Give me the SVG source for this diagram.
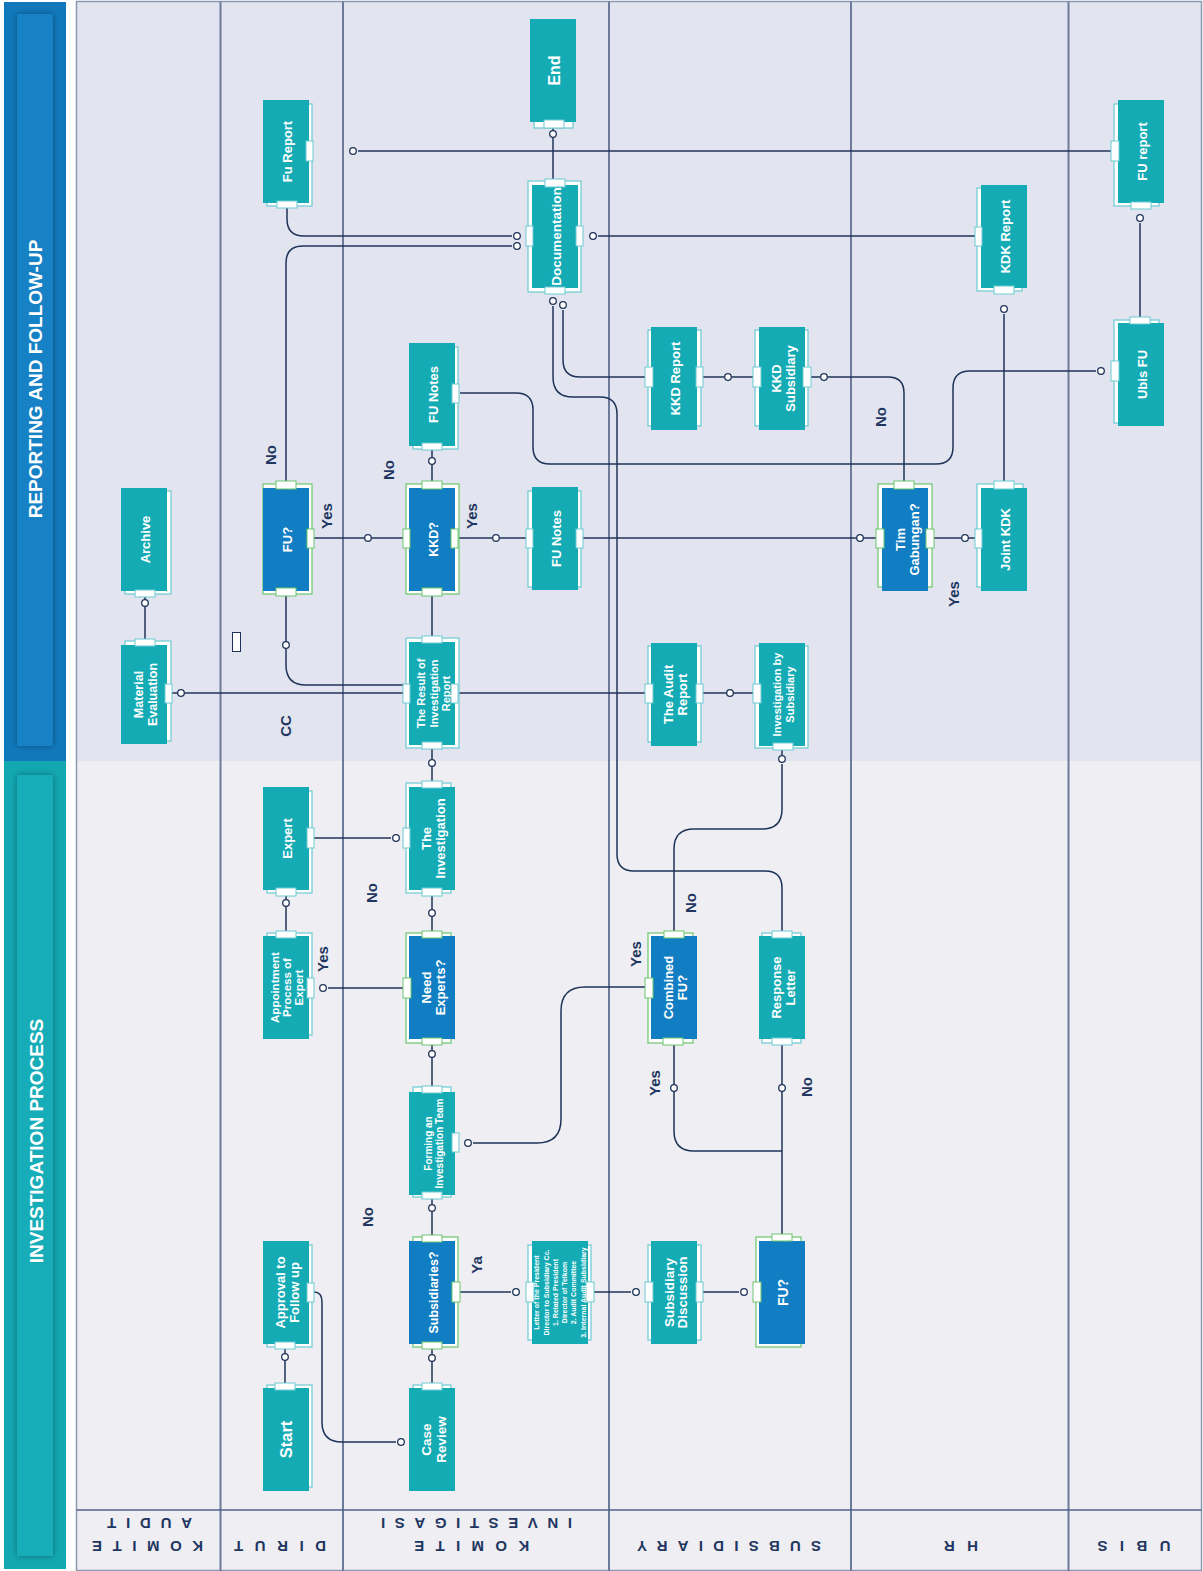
<svg xmlns="http://www.w3.org/2000/svg" width="1203" height="1571" viewBox="0 0 1203 1571">
<defs>
<style>
.tl{fill:#14abb5}
.bl{fill:#117dc2}
.fr{fill:#fff;stroke:#6ccad1;stroke-width:1.2}
.frg{fill:#fff;stroke:#6cc56e;stroke-width:1.2}
.pt{fill:#fff;stroke:#6ccad1;stroke-width:1}
.ptg{fill:#fff;stroke:#6cc56e;stroke-width:1}
.nt{font-family:"Liberation Sans",Arial,sans-serif;font-weight:700;fill:#fff;text-anchor:middle;font-size:12.5px}
.lb{font-family:"Liberation Sans",Arial,sans-serif;font-weight:700;fill:#1f3660;font-size:15px;text-anchor:middle}
.hd{font-family:"Liberation Sans",Arial,sans-serif;font-weight:700;fill:#1f3660;font-size:15px;text-anchor:middle}
.bt{font-family:"Liberation Sans",Arial,sans-serif;font-weight:700;fill:#fff;font-size:19px;text-anchor:middle}
.cn{fill:none;stroke:#1f3358;stroke-width:1.5}
.dot{fill:#fff;stroke:#1f3358;stroke-width:1.3}
.ln{stroke:#6b7b99;stroke-width:2}
</style>
<filter id="sh" x="-40%" y="-5%" width="180%" height="110%"><feDropShadow dx="0" dy="0" stdDeviation="3" flood-color="#000" flood-opacity="0.35"/></filter>
</defs>

<g id="background">
<rect x="0" y="0" width="1203" height="1571" fill="#fff"/>
<rect x="76.5" y="1.5" width="1125" height="760" fill="#e2e5ef"/>
<rect x="76.5" y="761" width="1125" height="810" fill="#eeeef3"/>
<rect x="76.5" y="1.5" width="1125" height="1569" fill="none" stroke="#8c98b3" stroke-width="1.5"/>
<line class="ln" x1="220.5" y1="1.5" x2="220.5" y2="1571"/>
<line class="ln" x1="343" y1="1.5" x2="343" y2="1571"/>
<line class="ln" x1="609" y1="1.5" x2="609" y2="1571"/>
<line class="ln" x1="851" y1="1.5" x2="851" y2="1571"/>
<line class="ln" x1="1068.5" y1="1.5" x2="1068.5" y2="1571"/>
<line x1="76.5" y1="1510" x2="1201.5" y2="1510" stroke="#51628a" stroke-width="1.5"/>
</g>

<g id="band-reporting">
<rect x="4" y="2" width="62" height="759" fill="#1178bb"/>
<rect x="17" y="14" width="36" height="732" fill="#1381c5" filter="url(#sh)"/>
<text class="bt" transform="translate(35.5,379) rotate(-90)" y="6.8">REPORTING AND FOLLOW-UP</text>
</g>
<g id="band-investigation">
<rect x="4" y="761" width="62" height="808" fill="#13a7b2"/>
<rect x="17" y="775" width="36" height="781" fill="#15adb8" filter="url(#sh)"/>
<text class="bt" transform="translate(36.5,1141) rotate(-90)" y="6.8">INVESTIGATION PROCESS</text>
</g>

<g id="lane-headers">
<text class="hd" transform="translate(147.5,1546) rotate(180)" y="5.4" textLength="111" lengthAdjust="spacing">KOMITE</text>
<text class="hd" transform="translate(149.5,1523.5) rotate(180)" y="5.4" textLength="85" lengthAdjust="spacing">AUDIT</text>
<text class="hd" transform="translate(280,1546) rotate(180)" y="5.4" textLength="92" lengthAdjust="spacing">DIRUT</text>
<text class="hd" transform="translate(471.7,1546) rotate(180)" y="5.4" textLength="115" lengthAdjust="spacing">KOMITE</text>
<text class="hd" transform="translate(476.5,1523.5) rotate(180)" y="5.4" textLength="191" lengthAdjust="spacing">INVESTIGASI</text>
<text class="hd" transform="translate(729,1546) rotate(180)" y="5.4" textLength="184" lengthAdjust="spacing">SUBSIDIARY</text>
<text class="hd" transform="translate(961,1546) rotate(180)" y="5.4" textLength="34" lengthAdjust="spacing">HR</text>
<text class="hd" transform="translate(1134,1546) rotate(180)" y="5.4" textLength="73" lengthAdjust="spacing">UBIS</text>
</g>

<g id="connectors">
<path class="cn" d="M553,128 V179"/>
<path class="cn" d="M287,208 V219 Q287,236 304,236 H512"/>
<path class="cn" d="M286,481 V263 Q286,246 303,246 H512"/>
<path class="cn" d="M975,236 H598"/>
<path class="cn" d="M645,377 H580 Q563,377 563,360 V310"/>
<path class="cn" d="M782,931 V888 Q782,871 765,871 H634 Q617,871 617,854 V414 Q617,397 600,397 H573 Q553,397 553,377 V306"/>
<path class="cn" d="M1111,151 H358"/>
<path class="cn" d="M1140,317 V223"/>
<path class="cn" d="M1004,481 V314"/>
<path class="cn" d="M811,377 H888 Q904,377 904,393 V481"/>
<path class="cn" d="M703,377 H753"/>
<path class="cn" d="M703,693 H753"/>
<path class="cn" d="M314,538 H403"/>
<path class="cn" d="M458,538 H526"/>
<path class="cn" d="M583,538 H876"/>
<path class="cn" d="M934,538 H975"/>
<path class="cn" d="M460,393 H516 Q533,393 533,410 V447 Q533,464 550,464 H936 Q953,464 953,447 V388 Q953,371 970,371 H1096"/>
<path class="cn" d="M432,450 V481"/>
<path class="cn" d="M432,596 V636"/>
<path class="cn" d="M286,596 V665 Q286,685 306,685 H403"/>
<path class="cn" d="M172,693 H403"/>
<path class="cn" d="M458,693 H645"/>
<path class="cn" d="M782,750 V755"/>
<path class="cn" d="M674,931 V849 Q674,829 694,829 H762 Q782,829 782,809 V764"/>
<path class="cn" d="M432,749 V781"/>
<path class="cn" d="M314,838 H391"/>
<path class="cn" d="M432,896 V931"/>
<path class="cn" d="M286,896 V931"/>
<path class="cn" d="M403,988 H328"/>
<path class="cn" d="M432,1045 V1086"/>
<path class="cn" d="M645,987 H585 Q561,987 561,1011 V1119 Q561,1143 537,1143 H473"/>
<path class="cn" d="M432,1199 V1235"/>
<path class="cn" d="M460,1292 H511"/>
<path class="cn" d="M594,1292 H631"/>
<path class="cn" d="M703,1292 H739"/>
<path class="cn" d="M782,1234 V1045"/>
<path class="cn" d="M782,1151 H694 Q674,1151 674,1131 V1045"/>
<path class="cn" d="M432,1349 V1383"/>
<path class="cn" d="M314,1292 Q322,1292 322,1302 V1422 Q322,1442 342,1442 H396"/>
<path class="cn" d="M285,1349 V1383"/>
<path class="cn" d="M145,597 V639"/>
<circle class="dot" cx="553" cy="134" r="3.3"/>
<circle class="dot" cx="517" cy="236" r="3.3"/>
<circle class="dot" cx="517" cy="246" r="3.3"/>
<circle class="dot" cx="593" cy="236" r="3.3"/>
<circle class="dot" cx="563" cy="305" r="3.3"/>
<circle class="dot" cx="553" cy="301" r="3.3"/>
<circle class="dot" cx="353" cy="151" r="3.3"/>
<circle class="dot" cx="1140" cy="218" r="3.3"/>
<circle class="dot" cx="1004" cy="309" r="3.3"/>
<circle class="dot" cx="824" cy="377" r="3.3"/>
<circle class="dot" cx="728" cy="377" r="3.3"/>
<circle class="dot" cx="730" cy="693" r="3.3"/>
<circle class="dot" cx="368" cy="538" r="3.3"/>
<circle class="dot" cx="496" cy="538" r="3.3"/>
<circle class="dot" cx="860" cy="538" r="3.3"/>
<circle class="dot" cx="965" cy="538" r="3.3"/>
<circle class="dot" cx="1101" cy="371" r="3.3"/>
<circle class="dot" cx="432" cy="461" r="3.3"/>
<circle class="dot" cx="286" cy="645" r="3.3"/>
<circle class="dot" cx="181" cy="693" r="3.3"/>
<circle class="dot" cx="782" cy="759" r="3.3"/>
<circle class="dot" cx="432" cy="763" r="3.3"/>
<circle class="dot" cx="396" cy="838" r="3.3"/>
<circle class="dot" cx="432" cy="913" r="3.3"/>
<circle class="dot" cx="286" cy="903" r="3.3"/>
<circle class="dot" cx="323" cy="988" r="3.3"/>
<circle class="dot" cx="432" cy="1054" r="3.3"/>
<circle class="dot" cx="468" cy="1143" r="3.3"/>
<circle class="dot" cx="432" cy="1208" r="3.3"/>
<circle class="dot" cx="516" cy="1292" r="3.3"/>
<circle class="dot" cx="636" cy="1292" r="3.3"/>
<circle class="dot" cx="744" cy="1292" r="3.3"/>
<circle class="dot" cx="782" cy="1088" r="3.3"/>
<circle class="dot" cx="674" cy="1088" r="3.3"/>
<circle class="dot" cx="432" cy="1358" r="3.3"/>
<circle class="dot" cx="401" cy="1442" r="3.3"/>
<circle class="dot" cx="285" cy="1357" r="3.3"/>
<circle class="dot" cx="145" cy="603" r="3.3"/>
</g>

<g id="edge-labels">
<text class="lb" transform="translate(271,455) rotate(-90)" y="5.4">No</text>
<text class="lb" transform="translate(327,516) rotate(-90)" y="5.4">Yes</text>
<text class="lb" transform="translate(389,470) rotate(-90)" y="5.4">No</text>
<text class="lb" transform="translate(472,516) rotate(-90)" y="5.4">Yes</text>
<text class="lb" transform="translate(286,726) rotate(-90)" y="5.4">CC</text>
<text class="lb" transform="translate(881,417) rotate(-90)" y="5.4">No</text>
<text class="lb" transform="translate(954,594) rotate(-90)" y="5.4">Yes</text>
<text class="lb" transform="translate(372,893) rotate(-90)" y="5.4">No</text>
<text class="lb" transform="translate(323,959) rotate(-90)" y="5.4">Yes</text>
<text class="lb" transform="translate(691,903) rotate(-90)" y="5.4">No</text>
<text class="lb" transform="translate(636,954) rotate(-90)" y="5.4">Yes</text>
<text class="lb" transform="translate(655,1083) rotate(-90)" y="5.4">Yes</text>
<text class="lb" transform="translate(807,1087) rotate(-90)" y="5.4">No</text>
<text class="lb" transform="translate(368,1217) rotate(-90)" y="5.4">No</text>
<text class="lb" transform="translate(477,1265) rotate(-90)" y="5.4">Ya</text>
</g>

<g id="marker-box"><rect x="232.5" y="632.5" width="8" height="19" fill="#fff" stroke="#1f3358" stroke-width="1"/></g>

<g id="n-archive">
<rect class="fr" x="125" y="491" width="46" height="103"/>
<rect class="tl" x="121" y="488" width="46" height="103"/>
<rect class="pt" x="135" y="590" width="20" height="7"/>
<text class="nt" transform="translate(145,539.5) rotate(-90)" style="font-size:13px"><tspan x="0" y="4.7">Archive</tspan></text>
</g>
<g id="n-material">
<rect class="fr" x="125" y="641" width="46" height="100"/>
<rect class="tl" x="121" y="645" width="46" height="99"/>
<rect class="pt" x="135" y="639" width="20" height="7"/>
<rect class="pt" x="165" y="684" width="7" height="19"/>
<text class="nt" transform="translate(145,694.5) rotate(-90)"><tspan x="0" y="-2.5">Material</tspan><tspan x="0" y="12">Evaluation</tspan></text>
</g>
<g id="n-fureport">
<rect class="fr" x="267" y="104" width="45" height="102"/>
<rect class="tl" x="263" y="100" width="46" height="103"/>
<rect class="pt" x="306" y="141" width="7" height="20"/>
<rect class="pt" x="277" y="201" width="20" height="7"/>
<text class="nt" transform="translate(287,151.5) rotate(-90)" style="font-size:13px"><tspan x="0" y="4.7">Fu Report</tspan></text>
</g>
<g id="n-fu1">
<rect class="frg" x="263" y="484" width="49" height="110"/>
<rect class="bl" x="263" y="488" width="46" height="103"/>
<rect class="ptg" x="276" y="481" width="20" height="8"/>
<rect class="ptg" x="307" y="529" width="7" height="19"/>
<rect class="ptg" x="276" y="588" width="20" height="8"/>
<text class="nt" transform="translate(287,539.5) rotate(-90)" style="font-size:13px"><tspan x="0" y="4.7">FU?</tspan></text>
</g>
<g id="n-expert">
<rect class="fr" x="267" y="791" width="45" height="102"/>
<rect class="tl" x="263" y="787" width="46" height="103"/>
<rect class="pt" x="307" y="828" width="7" height="20"/>
<rect class="pt" x="276" y="888" width="20" height="8"/>
<text class="nt" transform="translate(287,838.5) rotate(-90)" style="font-size:13px"><tspan x="0" y="4.7">Expert</tspan></text>
</g>
<g id="n-appointment">
<rect class="fr" x="267" y="933" width="45" height="102"/>
<rect class="tl" x="263" y="936" width="46" height="103"/>
<rect class="pt" x="276" y="931" width="20" height="7"/>
<rect class="pt" x="307" y="978" width="7" height="20"/>
<text class="nt" transform="translate(287,987.5) rotate(-90)" style="font-size:11.5px"><tspan x="0" y="-8.2">Appointment</tspan><tspan x="0" y="4.1">Process of</tspan><tspan x="0" y="16.4">Expert</tspan></text>
</g>
<g id="n-approval">
<rect class="fr" x="267" y="1245" width="45" height="102"/>
<rect class="tl" x="263" y="1241" width="46" height="103"/>
<rect class="pt" x="307" y="1283" width="7" height="19"/>
<rect class="pt" x="275" y="1342" width="20" height="7"/>
<text class="nt" transform="translate(287,1292.5) rotate(-90)" style="font-size:13px"><tspan x="0" y="-2.5">Approval to</tspan><tspan x="0" y="11.8">Follow up</tspan></text>
</g>
<g id="n-start">
<rect class="fr" x="267" y="1385" width="45" height="102"/>
<rect class="tl" x="263" y="1388" width="46" height="103"/>
<rect class="pt" x="275" y="1383" width="20" height="7"/>
<text class="nt" transform="translate(286.5,1439.5) rotate(-90)" style="font-size:16.5px"><tspan x="0" y="5.9">Start</tspan></text>
</g>
<g id="n-funotes1">
<rect class="fr" x="413" y="347" width="45" height="102"/>
<rect class="tl" x="409" y="343" width="46" height="103"/>
<rect class="pt" x="452" y="384" width="7" height="19"/>
<rect class="pt" x="422" y="443" width="20" height="7"/>
<text class="nt" transform="translate(433,394.5) rotate(-90)" style="font-size:13px"><tspan x="0" y="4.7">FU Notes</tspan></text>
</g>
<g id="n-kkd">
<rect class="frg" x="406" y="484" width="53" height="110"/>
<rect class="bl" x="409" y="488" width="46" height="103"/>
<rect class="ptg" x="422" y="481" width="20" height="8"/>
<rect class="ptg" x="403" y="529" width="7" height="19"/>
<rect class="ptg" x="451" y="529" width="7" height="19"/>
<rect class="ptg" x="422" y="588" width="20" height="8"/>
<text class="nt" transform="translate(433,539.5) rotate(-90)" style="font-size:12.5px"><tspan x="0" y="4.5">KKD?</tspan></text>
</g>
<g id="n-result">
<rect class="fr" x="406" y="638" width="53" height="110"/>
<rect class="tl" x="409" y="642" width="46" height="103"/>
<rect class="pt" x="422" y="636" width="20" height="7"/>
<rect class="pt" x="403" y="684" width="7" height="19"/>
<rect class="pt" x="451" y="684" width="7" height="19"/>
<rect class="pt" x="422" y="742" width="20" height="7"/>
<text class="nt" transform="translate(433.5,693.5) rotate(-90)" style="font-size:11px"><tspan x="0" y="-8.8">The Result of</tspan><tspan x="0" y="4">Investigation</tspan><tspan x="0" y="16.8">Report</tspan></text>
</g>
<g id="n-investigation">
<rect class="fr" x="406" y="783" width="45" height="110"/>
<rect class="tl" x="409" y="787" width="46" height="103"/>
<rect class="pt" x="422" y="781" width="20" height="7"/>
<rect class="pt" x="403" y="828" width="7" height="20"/>
<rect class="pt" x="422" y="888" width="20" height="8"/>
<text class="nt" transform="translate(433.5,838.5) rotate(-90)" style="font-size:13px"><tspan x="0" y="-2.3">The</tspan><tspan x="0" y="11.7">Investigation</tspan></text>
</g>
<g id="n-needexperts">
<rect class="frg" x="406" y="933" width="45" height="110"/>
<rect class="bl" x="409" y="936" width="46" height="103"/>
<rect class="ptg" x="422" y="931" width="20" height="7"/>
<rect class="ptg" x="403" y="978" width="8" height="20"/>
<rect class="ptg" x="422" y="1038" width="20" height="7"/>
<text class="nt" transform="translate(433.5,987.5) rotate(-90)" style="font-size:13px"><tspan x="0" y="-2.3">Need</tspan><tspan x="0" y="11.7">Experts?</tspan></text>
</g>
<g id="n-forming">
<rect class="fr" x="413" y="1087" width="38" height="110"/>
<rect class="tl" x="409" y="1092" width="46" height="103"/>
<rect class="pt" x="422" y="1086" width="20" height="7"/>
<rect class="pt" x="452" y="1133" width="7" height="19"/>
<rect class="pt" x="422" y="1192" width="20" height="7"/>
<text class="nt" transform="translate(433.5,1143.5) rotate(-90)" style="font-size:10px"><tspan x="0" y="-1.9">Forming an</tspan><tspan x="0" y="9.1">Investigation Team</tspan></text>
</g>
<g id="n-subsidiaries">
<rect class="frg" x="413" y="1237" width="45" height="110"/>
<rect class="bl" x="409" y="1241" width="46" height="103"/>
<rect class="ptg" x="422" y="1235" width="20" height="7"/>
<rect class="ptg" x="452" y="1282" width="8" height="20"/>
<rect class="ptg" x="422" y="1342" width="20" height="7"/>
<text class="nt" transform="translate(433,1292.5) rotate(-90)" style="font-size:12.5px"><tspan x="0" y="4.5">Subsidiaries?</tspan></text>
</g>
<g id="n-casereview">
<rect class="fr" x="413" y="1385" width="38" height="104"/>
<rect class="tl" x="409" y="1388" width="46" height="103"/>
<rect class="pt" x="422" y="1383" width="20" height="7"/>
<text class="nt" transform="translate(433.5,1439.5) rotate(-90)" style="font-size:13.5px"><tspan x="0" y="-2.2">Case</tspan><tspan x="0" y="12">Review</tspan></text>
</g>
<g id="n-end">
<rect class="fr" x="534" y="22" width="39" height="106"/>
<rect class="tl" x="530" y="19" width="46" height="103"/>
<rect class="pt" x="544" y="120" width="20" height="8"/>
<text class="nt" transform="translate(554,70.5) rotate(-90)" style="font-size:16px"><tspan x="0" y="5.8">End</tspan></text>
</g>
<g id="n-documentation">
<rect class="fr" x="528" y="181" width="53" height="111"/>
<rect class="tl" x="532" y="185" width="46" height="103"/>
<rect class="pt" x="545" y="179" width="20" height="8"/>
<rect class="pt" x="526" y="226" width="7" height="20"/>
<rect class="pt" x="576" y="226" width="7" height="20"/>
<rect class="pt" x="545" y="287" width="20" height="7"/>
<text class="nt" transform="translate(556,236.5) rotate(-90)" style="font-size:13.5px"><tspan x="0" y="4.9">Documentation</tspan></text>
</g>
<g id="n-funotes2">
<rect class="fr" x="528" y="491" width="53" height="96"/>
<rect class="tl" x="532" y="487" width="46" height="103"/>
<rect class="pt" x="526" y="529" width="7" height="19"/>
<rect class="pt" x="576" y="529" width="7" height="19"/>
<text class="nt" transform="translate(556,538.5) rotate(-90)" style="font-size:13px"><tspan x="0" y="4.7">FU Notes</tspan></text>
</g>
<g id="n-letter">
<rect class="fr" x="528" y="1245" width="63" height="95"/>
<rect class="tl" x="532" y="1241" width="56" height="103"/>
<rect class="pt" x="526" y="1282" width="8" height="20"/>
<rect class="pt" x="586" y="1282" width="8" height="20"/>
<text class="nt" transform="translate(560,1292.5) rotate(-90)" style="font-size:7px"><tspan x="0" y="-20.75">Letter of the President</tspan><tspan x="0" y="-11.45">Director to Subsidiary Cc.</tspan><tspan x="0" y="-2.15">1. Related President</tspan><tspan x="0" y="7.15">Director of Telkom</tspan><tspan x="0" y="16.45">2. Audit Committee</tspan><tspan x="0" y="25.75">3. Internal Audit Subsidiary</tspan></text>
</g>
<g id="n-kkdreport">
<rect class="fr" x="648" y="330" width="53" height="96"/>
<rect class="tl" x="651" y="327" width="46" height="103"/>
<rect class="pt" x="645" y="367" width="8" height="20"/>
<rect class="pt" x="696" y="367" width="7" height="20"/>
<text class="nt" transform="translate(675,378.5) rotate(-90)" style="font-size:13px"><tspan x="0" y="4.7">KKD Report</tspan></text>
</g>
<g id="n-kkdsubsidiary">
<rect class="fr" x="755" y="330" width="53" height="96"/>
<rect class="tl" x="759" y="327" width="46" height="103"/>
<rect class="pt" x="753" y="367" width="8" height="20"/>
<rect class="pt" x="803" y="367" width="8" height="20"/>
<text class="nt" transform="translate(783.5,378.5) rotate(-90)" style="font-size:13px"><tspan x="0" y="-2.3">KKD</tspan><tspan x="0" y="11.7">Subsidiary</tspan></text>
</g>
<g id="n-auditreport">
<rect class="fr" x="648" y="646" width="53" height="96"/>
<rect class="tl" x="651" y="643" width="46" height="103"/>
<rect class="pt" x="645" y="684" width="8" height="19"/>
<rect class="pt" x="696" y="684" width="7" height="19"/>
<text class="nt" transform="translate(675,694.5) rotate(-90)" style="font-size:13px"><tspan x="0" y="-2.3">The Audit</tspan><tspan x="0" y="11.7">Report</tspan></text>
</g>
<g id="n-invsubsidiary">
<rect class="fr" x="755" y="646" width="53" height="102"/>
<rect class="tl" x="759" y="643" width="46" height="103"/>
<rect class="pt" x="753" y="684" width="8" height="19"/>
<rect class="pt" x="773" y="743" width="20" height="7"/>
<text class="nt" transform="translate(783.5,694.5) rotate(-90)" style="font-size:11px"><tspan x="0" y="-2.4">Investigation by</tspan><tspan x="0" y="10.4">Subsidiary</tspan></text>
</g>
<g id="n-combinedfu">
<rect class="frg" x="648" y="933" width="45" height="110"/>
<rect class="bl" x="651" y="936" width="46" height="103"/>
<rect class="ptg" x="664" y="931" width="20" height="7"/>
<rect class="ptg" x="645" y="978" width="8" height="20"/>
<rect class="ptg" x="663" y="1038" width="20" height="7"/>
<text class="nt" transform="translate(675.5,987.5) rotate(-90)" style="font-size:13px"><tspan x="0" y="-2.3">Combined</tspan><tspan x="0" y="11.7">FU?</tspan></text>
</g>
<g id="n-response">
<rect class="fr" x="762" y="933" width="39" height="110"/>
<rect class="tl" x="759" y="936" width="46" height="103"/>
<rect class="pt" x="772" y="931" width="20" height="7"/>
<rect class="pt" x="772" y="1038" width="20" height="7"/>
<text class="nt" transform="translate(783.5,987.5) rotate(-90)" style="font-size:13px"><tspan x="0" y="-2.3">Response</tspan><tspan x="0" y="11.7">Letter</tspan></text>
</g>
<g id="n-subdiscussion">
<rect class="fr" x="648" y="1245" width="53" height="95"/>
<rect class="tl" x="651" y="1241" width="46" height="103"/>
<rect class="pt" x="645" y="1282" width="8" height="20"/>
<rect class="pt" x="696" y="1282" width="7" height="20"/>
<text class="nt" transform="translate(676,1292.5) rotate(-90)" style="font-size:13.5px"><tspan x="0" y="-1.6">Subsidiary</tspan><tspan x="0" y="11.4">Discussion</tspan></text>
</g>
<g id="n-fu2">
<rect class="frg" x="756" y="1237" width="45" height="110"/>
<rect class="bl" x="759" y="1241" width="46" height="103"/>
<rect class="ptg" x="772" y="1234" width="20" height="7"/>
<rect class="ptg" x="753" y="1282" width="8" height="20"/>
<text class="nt" transform="translate(783,1292.5) rotate(-90)" style="font-size:14px"><tspan x="0" y="5">FU?</tspan></text>
</g>
<g id="n-timgabungan">
<rect class="frg" x="878" y="484" width="54" height="103"/>
<rect class="bl" x="882" y="488" width="46" height="103"/>
<rect class="ptg" x="894" y="481" width="20" height="8"/>
<rect class="ptg" x="876" y="529" width="8" height="19"/>
<rect class="ptg" x="926" y="529" width="8" height="19"/>
<text class="nt" transform="translate(907,539.5) rotate(-90)" style="font-size:13px"><tspan x="0" y="-2.3">Tim</tspan><tspan x="0" y="11.7">Gabungan?</tspan></text>
</g>
<g id="n-jointkdk">
<rect class="fr" x="977" y="484" width="46" height="103"/>
<rect class="tl" x="981" y="488" width="46" height="103"/>
<rect class="pt" x="994" y="481" width="20" height="8"/>
<rect class="pt" x="975" y="529" width="7" height="19"/>
<text class="nt" transform="translate(1005,539.5) rotate(-90)" style="font-size:13px"><tspan x="0" y="4.7">Joint KDK</tspan></text>
</g>
<g id="n-kdkreport">
<rect class="fr" x="977" y="188" width="45" height="103"/>
<rect class="tl" x="981" y="185" width="46" height="103"/>
<rect class="pt" x="975" y="227" width="7" height="19"/>
<rect class="pt" x="994" y="286" width="20" height="8"/>
<text class="nt" transform="translate(1005,236.5) rotate(-90)" style="font-size:13px"><tspan x="0" y="4.7">KDK Report</tspan></text>
</g>
<g id="n-fureport-ubis">
<rect class="fr" x="1114" y="104" width="45" height="102"/>
<rect class="tl" x="1118" y="100" width="46" height="103"/>
<rect class="pt" x="1111" y="141" width="8" height="20"/>
<rect class="pt" x="1131" y="202" width="20" height="7"/>
<text class="nt" transform="translate(1142,151.5) rotate(-90)" style="font-size:13px"><tspan x="0" y="4.7">FU report</tspan></text>
</g>
<g id="n-ubisfu">
<rect class="fr" x="1114" y="320" width="45" height="103"/>
<rect class="tl" x="1118" y="323" width="46" height="103"/>
<rect class="pt" x="1130" y="317" width="20" height="7"/>
<rect class="pt" x="1111" y="361" width="8" height="20"/>
<text class="nt" transform="translate(1142,374.5) rotate(-90)" style="font-size:13px"><tspan x="0" y="4.7">Ubis FU</tspan></text>
</g>
</svg>
